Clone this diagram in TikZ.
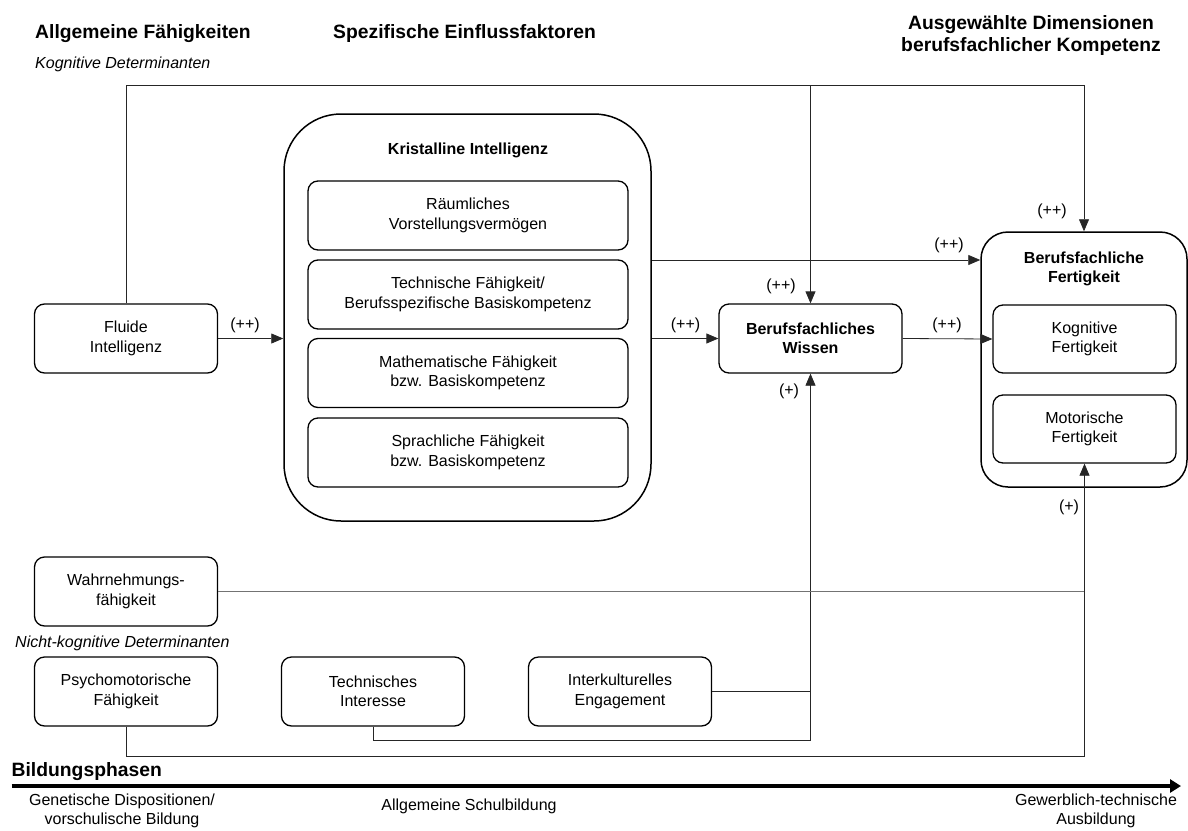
\documentclass[tikz,border=0pt]{standalone}
\usepackage{fontspec}
\setmainfont{Liberation Sans}
\usetikzlibrary{arrows.meta}

\tikzset{
  txt/.style={font=\fontsize{16}{19.5}\selectfont, align=center, inner sep=0pt},
  head/.style={font=\fontsize{19.3}{22}\selectfont\bfseries, align=center, inner sep=0pt},
  box/.style={txt, draw, line width=1.3pt, rounded corners=10pt, minimum width=183pt, minimum height=69pt},
  bigbox/.style={draw, line width=1.5pt, inner sep=0pt},
  line/.style={draw=black!85, line width=0.8pt},
  grayline/.style={draw=black!55, line width=1.1pt},
  arr/.style={line, -{Triangle[length=12pt,width=10pt]}},
}

\begin{document}
\begin{tikzpicture}[x=1pt,y=-1pt]
\useasboundingbox (0,0) rectangle (1188,830);

% headings
\node[head, anchor=west] (hallg) at (35,34) {Allgemeine Fähigkeiten};
\node[head, anchor=west] (hspez) at (333,34) {Spezifische Einflussfaktoren};
\node[head] (hdim) at (1031,36) {Ausgewählte Dimensionen\\berufsfachlicher Kompetenz};
\node[txt, anchor=west, font=\fontsize{16}{19}\selectfont\itshape] (hkog) at (35,64) {Kognitive Determinanten};
\node[txt, anchor=west, font=\fontsize{16}{19}\selectfont\itshape] (hnkog) at (15,643) {Nicht-kognitive Determinanten};

% kristalline intelligenz
\node[bigbox, rounded corners=57pt, minimum width=367pt, minimum height=407pt] (krist) at (467.5,317.5) {};
\node[txt, font=\fontsize{16}{19}\selectfont\bfseries] (kristlab) at (468,150) {Kristalline Intelligenz};
\node[box, minimum width=320pt] (raum) at (468,215.5) {Räumliches\\Vorstellungsvermögen};
\node[box, minimum width=320pt] (techf) at (468,294.5) {Technische Fähigkeit/\\Berufsspezifische Basiskompetenz};
\node[box, minimum width=320pt] (math) at (468,373) {Mathematische Fähigkeit\\bzw. Basiskompetenz};
\node[box, minimum width=320pt] (sprach) at (468,452.5) {Sprachliche Fähigkeit\\bzw. Basiskompetenz};

% berufsfachliche fertigkeit
\node[bigbox, rounded corners=27pt, minimum width=206pt, minimum height=255pt] (fert) at (1084,359.5) {};
\node[txt, font=\fontsize{16}{19.5}\selectfont\bfseries] (fertlab) at (1084,269) {Berufsfachliche\\Fertigkeit};
\node[box, minimum height=68pt] (kogn) at (1084.5,339) {Kognitive\\Fertigkeit};
\node[box, minimum height=68pt] (mot) at (1084.5,429) {Motorische\\Fertigkeit};

% einzelne faktoren
\node[box] (fluide) at (126,338.5) {Fluide\\Intelligenz};
\node[box, font=\fontsize{16}{19.5}\selectfont\bfseries] (wissen) at (810.5,338.5) {Berufsfachliches\\Wissen};
\node[box] (wahr) at (126,591.5) {Wahrnehmungs-\\fähigkeit};
\node[box] (psy) at (126,691.5) {Psychomotorische\\Fähigkeit};
\node[box] (tech) at (373,691.5) {Technisches\\Interesse};
\node[box] (inter) at (620,691.5) {Interkulturelles\\Engagement};

% verbindungen
\coordinate (top) at (0,85);
\coordinate (low1) at (0,740);
\coordinate (low2) at (0,756);
\draw[arr] (fluide.north) |- (top -| fert.north) -- (fert.north);
\draw[arr] (top -| wissen.north) -- (wissen.north);
\draw[arr] (fluide.east) -- (krist.west |- fluide.east);
\draw[arr] (krist.east |- wissen.west) -- (wissen.west);
\draw[arr] (krist.east |- 0,260) -- (fert.west |- 0,260);
\draw[arr] (wissen.east) -- (kogn.west);
\draw[arr] (low1 -| wissen.south) -- (wissen.south);
\draw[line] (tech.south) |- (low1 -| wissen.south);
\draw[line] (inter.east) -- (inter.east -| wissen.south);
\draw[grayline] (wahr.east) -- (wahr.east -| mot.south);
\draw[arr] (psy.south) |- (low2 -| mot.south) -- (mot.south);

% wirkungen
\node[txt] (pp1) at (245,325) {(++)};
\node[txt] (pp2) at (685.5,325) {(++)};
\node[txt] (pp3) at (781,286) {(++)};
\node[txt] (pp4) at (949,245) {(++)};
\node[txt] (pp5) at (947,325) {(++)};
\node[txt] (pp6) at (1052,211) {(++)};
\node[txt] (p1) at (789,391) {(+)};
\node[txt] (p2) at (1069,507) {(+)};

% bildungsphasen
\node[head, anchor=west] (hbild) at (11.5,772) {Bildungsphasen};
\coordinate (tstart) at (11.5,786);
\coordinate (tend) at (1181,786);
\draw[line width=3.5pt, -{Triangle[length=11pt,width=13pt]}] (tstart) -- (tend);
\node[txt] (ph1) at (122,811) {Genetische Dispositionen/\\vorschulische Bildung};
\node[txt] (ph2) at (469,806) {Allgemeine Schulbildung};
\node[txt] (ph3) at (1096,811) {Gewerblich-technische\\Ausbildung};
\end{tikzpicture}
\end{document}
